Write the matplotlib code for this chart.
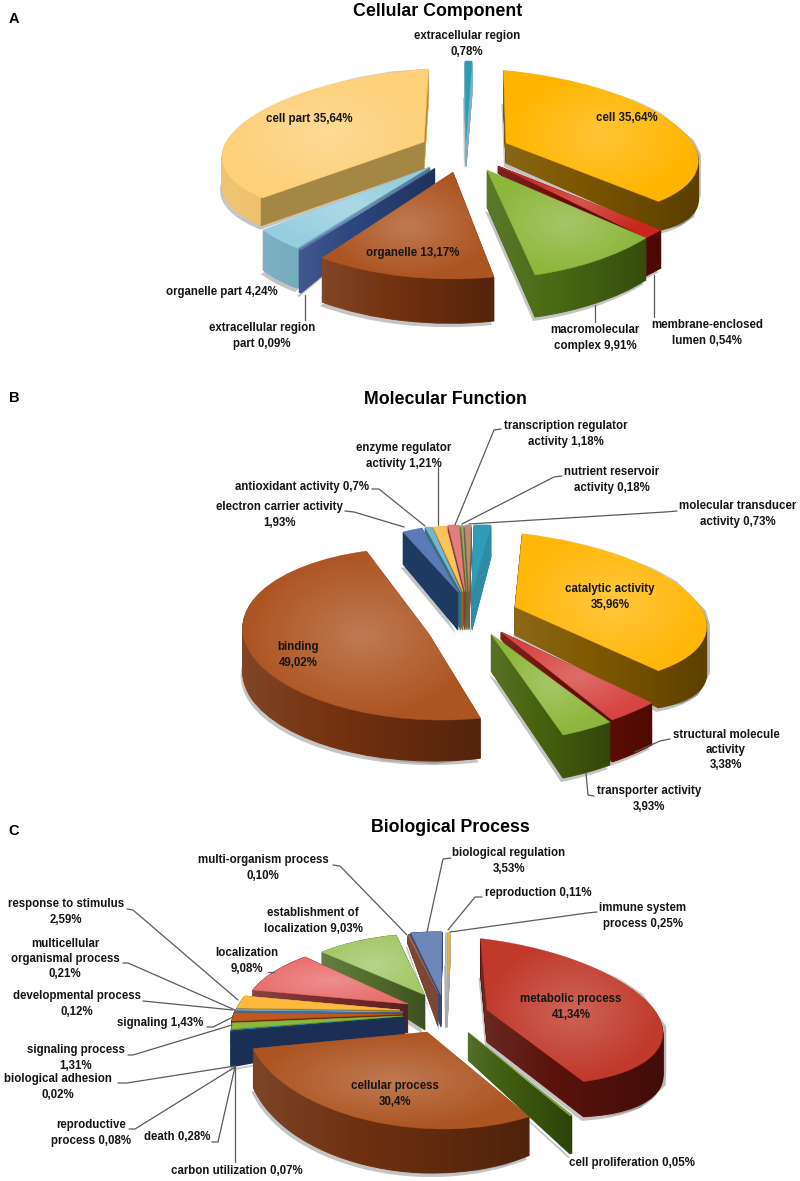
import numpy as np
import matplotlib
matplotlib.use("Agg")
import matplotlib.pyplot as plt
from matplotlib.transforms import Affine2D
from matplotlib.path import Path

plt.rcParams['font.family'] = ['Liberation Sans', 'DejaVu Sans']

# ---------- data ----------
cc_names = ["cell", "membrane-enclosed lumen", "macromolecular complex", "organelle",
            "extracellular region part", "organelle part", "cell part", "extracellular region"]
cc_values = [35.64, 0.54, 9.91, 13.17, 0.09, 4.24, 35.64, 0.78]

mf_names = ["catalytic activity", "structural molecule activity", "transporter activity", "binding",
            "electron carrier activity", "antioxidant activity", "enzyme regulator activity",
            "transcription regulator activity", "nutrient reservoir activity",
            "molecular transducer activity", "(unlabelled)"]
mf_values = [35.96, 3.38, 3.93, 49.02, 1.93, 0.70, 1.21, 1.18, 0.18, 0.73, 1.78]

bp_names = ["metabolic process", "cell proliferation", "cellular process", "carbon utilization",
            "death", "reproductive process", "biological adhesion", "signaling process", "signaling",
            "developmental process", "multicellular organismal process", "response to stimulus",
            "localization", "establishment of localization", "multi-organism process",
            "biological regulation", "reproduction", "immune system process"]
bp_values = [41.34, 0.05, 30.4, 0.07, 0.28, 0.08, 0.02, 1.31, 1.43, 0.12, 0.21, 2.59,
             9.08, 9.03, 0.10, 3.53, 0.11, 0.25]

titles = ["Cellular Component", "Molecular Function", "Biological Process"]
panel_letters = ["A", "B", "C"]

# ---------- layout: per slice (tip, rim start, rim end, tip depth, rim depth, top, side, rank, mid) ----------
cc_geom = [
    ((506, 143), (508, 71), (663, 202), 20, 32, "#FFB500", "#7C5600", 3, (662, 125)),
    ((498, 166), (661, 230), (646, 238), 7, 38, "#C8281C", "#6B0C08", 7, None),
    ((487, 170), (646, 238), (535, 275), 37, 42, "#8DB63C", "#4A6B14", 8, None),
    ((453, 172), (494, 277), (322, 258), 40, 44, "#AD5522", "#743210", 6, None),
    ((435, 168), (301, 250), (299, 249), 15, 43, "#5B78B0", "#2C4680", 5, None),
    ((430, 167), (297, 248), (263, 230), 8, 40, "#96CEDF", "#6FA8BC", 4, None),
    ((424, 142), (261, 198), (427, 69), 27, 28, "#FDD079", "#EDBE66", 2, (250, 122)),
    ((466, 140), (465, 61), (472, 61), 27, 33, "#2A9DB5", "#7FAFC0", 1, None),
]
mf_geom = [
    ((515, 607), (527, 536), (663, 673), 28, 40, "#FFB70A", "#7F5800", 3, (675, 588)),
    ((501, 632), (652, 703), (612, 720), 7, 42, "#D64541", "#6B0F05", 4, None),
    ((491, 634), (610, 722), (563, 735), 37, 43, "#8DB63C", "#47620F", 5, None),
    ((429, 634), (487, 717), (373, 550), 40, 43, "#AD5522", "#743210", 2, (250, 655)),
    ((458, 592), (403, 532), (422, 528), 38, 32, "#5B7BB8", "#1F3A60", 1, None),
    ((461, 592), (425, 527), (432, 527), 38, 32, "#72B8CC", "#3A6F80", 1, None),
    ((463, 592), (433, 527), (446, 526), 38, 32, "#FBC358", "#8A6A2A", 1, None),
    ((465, 592), (448, 525), (459, 525), 38, 32, "#E0807E", "#8B3A3A", 1, None),
    ((467, 592), (461, 525), (463, 525), 38, 32, "#8FB05A", "#5A6E2A", 1, None),
    ((469, 592), (465, 525), (471, 525), 38, 32, "#BC8A78", "#7A5A4A", 1, None),
    ((472, 592), (474, 525), (491, 525), 38, 32, "#2F9DB8", "#2F8CA4", 1, None),
]
bp_geom = [
    ((487, 1010), (485, 942), (588, 1085), 32, 38, "#C0392B", "#5A120C", 17, (645, 1003)),
    ((468, 1032), (572, 1115), (570, 1116), 28, 38, "#85A040", "#3F5C10", 18, None),
    ((427, 1032), (525, 1115), (249, 1047), 30, 40, "#AD5522", "#6E3010", 16, (385, 1127)),
    ((405, 1017), (231, 1032), (231, 1031), 17, 35, "#1F3864", "#1B2F55", 15, None),
    ((405, 1017), (231, 1031), (231, 1031), 17, 35, "#1F3864", "#1B2F55", 14, None),
    ((405, 1017), (231, 1031), (231, 1030), 17, 35, "#2A8FA8", "#1B2F55", 13, None),
    ((405, 1017), (231, 1030), (231, 1030), 17, 35, "#2A8FA8", "#1B2F55", 12, None),
    ((403, 1016), (232, 1029), (232, 1023), 7, 12, "#8DB63C", "#4A6B14", 11, None),
    ((403, 1014), (232, 1021), (234, 1013), 5, 6, "#C0591E", "#6E3010", 10, None),
    ((403, 1013), (234, 1013), (235, 1011), 5, 6, "#4A6FA5", "#33507A", 9, None),
    ((403, 1012), (235, 1011), (236, 1009), 5, 6, "#70A8C0", "#4A7A90", 8, None),
    ((400, 1010), (237, 1008), (245, 996), 6, 6, "#FDB93E", "#A87A20", 7, None),
    ((408, 1004), (253, 990), (305, 957), 29, 7, "#E8706E", "#7A2E2E", 6, None),
    ((425, 995), (322, 952), (396, 935), 35, 12, "#A4C86A", "#55702F", 5, None),
    ((438, 993), (408, 936), (409, 934), 33, 8, "#9A6650", "#7B4636", 4, None),
    ((441, 995), (411, 933), (442, 932), 32, 5, "#6E86B8", "#2F4A7A", 3, None),
    ((446, 1000), (446, 932), (447, 932), 28, 30, "#C8C8C8", "#AAAAAA", 2, None),
    ((447, 1000), (448, 932), (450, 932), 28, 30, "#F0B830", "#AAAAAA", 1, None),
]
# flat faces whose colour differs from the curved side: index of slice in the pie -> colour
cc_cut = {6: "#A58745"}

labels = [
    ("extracellular region\n0,78%", 467, 44), ("cell 35,64%", 627, 118), ("cell part 35,64%", 309, 119),
    ("organelle 13,17%", 413, 253), ("organelle part 4,24%", 222, 292),
    ("extracellular region\npart 0,09%", 262, 336), ("macromolecular\ncomplex 9,91%", 595, 338),
    ("membrane-enclosed\nlumen 0,54%", 707, 333),
    ("transcription regulator\nactivity 1,18%", 566, 434), ("enzyme regulator\nactivity 1,21%", 404, 456),
    ("antioxidant activity 0,7%", 302, 487), ("electron carrier activity\n1,93%", 279, 515),
    ("nutrient reservoir\nactivity 0,18%", 612, 480), ("molecular transducer\nactivity 0,73%", 738, 514),
    ("catalytic activity\n35,96%", 610, 597), ("binding\n49,02%", 298, 655),
    ("structural molecule\nactivity\n3,38%", 726, 750), ("transporter activity\n3,93%", 649, 799),
    ("multi-organism process\n0,10%", 263, 868), ("response to stimulus\n2,59%", 66, 912),
    ("multicellular\norganismal process\n0,21%", 65, 959), ("developmental process\n0,12%", 77, 1004),
    ("signaling 1,43%", 160, 1023), ("signaling process\n1,31%", 76, 1058),
    ("biological adhesion\n0,02%", 58, 1087), ("reproductive\nprocess 0,08%", 91, 1133),
    ("death 0,28%", 177, 1137), ("carbon utilization 0,07%", 237, 1171),
    ("establishment of\nlocalization 9,03%", 313, 921), ("localization\n9,08%", 247, 961),
    ("biological regulation\n3,53%", 509, 861), ("reproduction 0,11%", 538, 893),
    ("immune system\nprocess 0,25%", 643, 916), ("metabolic process\n41,34%", 571, 1007),
    ("cellular process\n30,4%", 395, 1094), ("cell proliferation 0,05%", 632, 1163),
]
leaders = [
    [(305, 295), (305, 320)], [(595, 305), (595, 322)], [(654, 275), (654, 317)],
    [(345, 511), (354, 512), (404, 527)], [(372, 489), (379, 489), (425, 526)],
    [(438, 467), (438, 525)], [(501, 429), (494, 430), (455, 525)],
    [(562, 476), (554, 477), (462, 524)], [(677, 511), (665, 512), (469, 524)],
    [(670, 739), (660, 741), (635, 752)], [(586, 773), (588, 795), (594, 796)],
    [(333, 865), (340, 866), (407, 935)], [(127, 909), (133, 910), (238, 1000)],
    [(123, 963), (128, 963), (235, 1010)], [(143, 1001), (233, 1010)],
    [(207, 1027), (213, 1027), (233, 1017)], [(128, 1055), (133, 1055), (232, 1025)],
    [(118, 1083), (127, 1083), (235, 1066)], [(129, 1129), (135, 1129), (235, 1067)],
    [(212, 1142), (218, 1142), (235, 1067)], [(235, 1162), (235, 1067)],
    [(268, 972), (274, 972)], [(451, 858), (443, 859), (427, 932)],
    [(482, 897), (475, 897), (448, 930)], [(597, 912), (587, 913), (450, 932)],
]
title_pos = [(438, 11), (445, 400), (450, 827)]
letter_pos = [(14, 19), (14, 398), (14, 831)]
N_LAYERS = 40

W, H = 800, 1181
fig = plt.figure(figsize=(W / 100, H / 100), dpi=100, facecolor="white")
ax = fig.add_axes([0, 0, 1, 1])


def fit_affine(tip, pts, angles, weights):
    w = np.array(weights, float)[:, None]
    A = np.column_stack([np.cos(angles), np.sin(angles)])
    B = np.array(pts, float) - np.array(tip, float)
    M = np.linalg.lstsq(A * w, B * w, rcond=1e-12)[0].T
    return Affine2D(np.array([[M[0, 0], M[0, 1], tip[0]],
                              [M[1, 0], M[1, 1], tip[1]],
                              [0, 0, 1]]))


def slice_affine(wedge, g, f, dx=0, extra=0):
    tip, p1, p2, dt, dr, *_, mid = g
    a1, a2 = np.radians(wedge.theta2), np.radians(wedge.theta1)  # clockwise pie
    off_t = dt * f + extra
    off_r = dr * f + extra
    t = (tip[0] + dx, tip[1] + off_t)
    pts = [(p1[0] + dx, p1[1] + off_r), (p2[0] + dx, p2[1] + off_r)]
    ang = [a1, a2]
    wts = [2, 2]
    if mid is not None:
        pts.append((mid[0] + dx, mid[1] + off_r))
        ang.append((a1 + a2) / 2)
        wts.append(1)
    return fit_affine(t, pts, ang, wts)


def radial_highlight():
    n = 64
    yy, xx = np.mgrid[-1:1:n * 1j, -1:1:n * 1j]
    alpha = np.clip(1 - np.hypot(xx, yy), 0, 1) * 0.22
    img = np.ones((n, n, 4))
    img[..., 3] = alpha
    return img


def side_shade():
    # curved sides go darker to the right, lighter to the left
    x = np.linspace(0, 1, 64)
    img = np.zeros((1, 64, 4))
    img[0, :, :3] = (x[:, None] < 0.4).astype(float)
    img[0, :, 3] = np.where(x < 0.4, (0.4 - x) / 0.4 * 0.10, (x - 0.4) / 0.6 * 0.28)
    return img


def hull(points):
    pts = sorted(set(map(tuple, np.round(points, 2))))

    def half(seq):
        out = []
        for p in seq:
            while len(out) > 1 and ((out[-1][0] - out[-2][0]) * (p[1] - out[-2][1])
                                    - (out[-1][1] - out[-2][1]) * (p[0] - out[-2][0])) <= 0:
                out.pop()
            out.append(p)
        return out[:-1]

    return np.array(half(pts) + half(pts[::-1]))


def wedge_points(w, aff):
    return (w.get_path().interpolated(8)
            .transformed(w.get_patch_transform() + aff).vertices)


def draw_pie(values, geom, cut=None):
    cut = cut or {}
    wedges, _ = ax.pie(values, startangle=90, counterclock=False, radius=1,
                       colors=["#C4C4C4"] * len(values), wedgeprops=dict(lw=0))
    for w, g in zip(wedges, geom):
        w.set_transform(slice_affine(w, g, 1, dx=-2, extra=4) + ax.transData)
        w.set_zorder(1)
    bottoms = []
    for k in range(N_LAYERS, 0, -1):
        sides = [g[6] for g in geom]
        wedges, _ = ax.pie(values, startangle=90, counterclock=False, radius=1, colors=sides,
                           wedgeprops=dict(lw=0.7))
        if k == N_LAYERS:
            bottoms = [(w, slice_affine(w, g, 1)) for w, g in zip(wedges, geom)]
        for w, g in zip(wedges, geom):
            w.set_edgecolor(g[6])
            w.set_transform(slice_affine(w, g, k / N_LAYERS) + ax.transData)
            w.set_zorder(10 + g[7] * 100 + (N_LAYERS - k))
    tops = [g[5] for g in geom]
    wedges, _ = ax.pie(values, startangle=90, counterclock=False, radius=1, colors=tops,
                       wedgeprops=dict(lw=0.3))
    for i, (w, g) in enumerate(zip(wedges, geom)):
        w.set_edgecolor(g[5])
        aff = slice_affine(w, g, 0)
        w.set_transform(aff + ax.transData)
        z = 10 + g[7] * 100 + N_LAYERS + 3
        w.set_zorder(z)
        ext = w.get_path().transformed(w.get_patch_transform() + aff).get_extents()
        if ext.width > 60 and ext.height > 40:
            im = ax.imshow(radial_highlight(), extent=(ext.x0, ext.x1, ext.y1, ext.y0),
                           aspect="auto", zorder=z + 1, interpolation="bilinear")
            im.set_clip_path(w)
            # gradient on the curved side, clipped to the outline of the slice
            bw, baff = bottoms[i]
            hpts = hull(np.vstack([wedge_points(w, aff), wedge_points(bw, baff)]))
            clip = Path(np.vstack([hpts, hpts[:1]]), closed=True)
            im2 = ax.imshow(side_shade(), extent=(hpts[:, 0].min(), hpts[:, 0].max(),
                                                  hpts[:, 1].max(), hpts[:, 1].min()),
                            aspect="auto", zorder=z - 2, interpolation="bilinear")
            im2.set_clip_path(clip, ax.transData)
        if i in cut:
            tip, p1, *_ = g
            dt, dr = g[3], g[4]
            ax.fill([tip[0], p1[0], p1[0], tip[0]],
                    [tip[1], p1[1], p1[1] + dr, tip[1] + dt],
                    color=cut[i], lw=0.3, zorder=z - 1)


for vals, geo, cut in zip((cc_values, mf_values, bp_values), (cc_geom, mf_geom, bp_geom), (cc_cut, None, None)):
    draw_pie(vals, geo, cut)

for pts in leaders:
    xs, ys = zip(*pts)
    ax.plot(xs, ys, color="#5A5A5A", lw=0.9, zorder=4000, solid_capstyle="round")

for txt, x, y in labels:
    ax.text(x, y, txt, ha="center", va="center", fontsize=8.3, fontweight="bold",
            color="#151515", linespacing=1.36, zorder=5000)
for t, (x, y) in zip(titles, title_pos):
    ax.text(x, y, t, ha="center", va="center", fontsize=12.8, fontweight="bold", color="black", zorder=5000)
for t, (x, y) in zip(panel_letters, letter_pos):
    ax.text(x, y, t, ha="center", va="center", fontsize=10.5, fontweight="bold", color="black", zorder=5000)

ax.set_aspect("auto")
ax.set_xlim(0, W)
ax.set_ylim(H, 0)
ax.set_axis_off()
fig.savefig("out.png", dpi=100, facecolor="white")
